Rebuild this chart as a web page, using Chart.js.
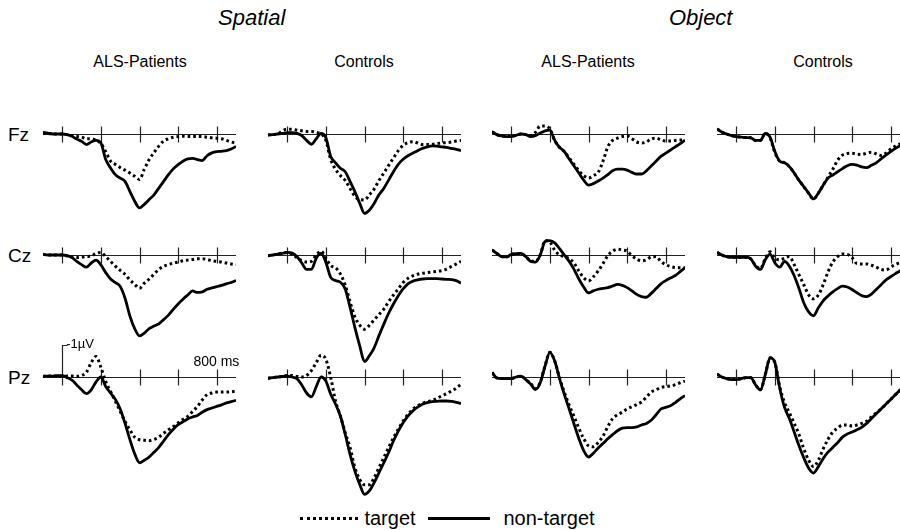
<!DOCTYPE html>
<html>
<head>
<meta charset="utf-8">
<script src="https://cdn.jsdelivr.net/npm/chart.js@4"></script>
<style>
  html, body { margin: 0; padding: 0; background: #fff; }
  body { width: 900px; height: 530px; position: relative; overflow: hidden;
         font-family: "Liberation Sans", Arial, sans-serif; color: #000; }
  .txt { position: absolute; white-space: nowrap; transform: translate(-50%, -50%); line-height: 1; }
  canvas { position: absolute; }
  .leg-line { position: absolute; height: 0; }
</style>
</head>
<body>
<script>
// time axis (ms), one sample every 25 ms
const TIMES = [-100, -75, -50, -25, 0, 25, 50, 75, 100, 125, 150, 175, 200, 225, 250, 275, 300,
  325, 350, 375, 400, 425, 450, 475, 500, 525, 550, 575, 600, 625, 650, 675, 700, 725, 750, 775,
  800, 825, 850, 875, 900];
const TICKS_MS = [0, 200, 400, 600, 800];
const COLUMNS = ["ALS-Patients", "Controls", "ALS-Patients", "Controls"];
const GROUPS = ["Spatial", "Object"];
const ELECTRODES = ["Fz", "Cz", "Pz"];
const LEGEND = ["target", "non-target"];

// amplitudes in µV (negative is plotted up)
const SP_ALS_FZ_T = [-0.03,-0.02,0,0,0,0.02,0.05,0.08,0.1,0.15,0.15,0.2,0.3,0.55,0.85,0.95,1.05,1.13,1.22,1.32,1.42,1.1,0.8,0.58,0.38,0.22,0.15,0.1,0.08,0.07,0.08,0.08,0.08,0.08,0.1,0.12,0.13,0.15,0.2,0.25,0.28];
const SP_ALS_FZ_N = [-0.05,-0.03,0,0,0,0.02,0.07,0.16,0.23,0.33,0.25,0.2,0.28,0.8,1.06,1.27,1.38,1.48,1.79,2.1,2.31,2.2,2.05,1.9,1.69,1.48,1.27,1.09,0.96,0.85,0.78,0.76,0.8,0.83,0.68,0.59,0.55,0.54,0.52,0.47,0.39];
const SP_ALS_CZ_T = [-0.02,0,0,0,0,0.03,0.06,0.08,0.07,0.05,0.03,-0.05,-0.08,0.05,0.2,0.35,0.48,0.6,0.78,0.92,1.04,0.88,0.75,0.6,0.45,0.35,0.3,0.25,0.22,0.18,0.16,0.14,0.12,0.12,0.14,0.18,0.2,0.22,0.25,0.28,0.3];
const SP_ALS_CZ_N = [-0.02,0,0,0,0,0.02,0.08,0.2,0.3,0.38,0.25,0.16,0.31,0.55,0.75,0.86,0.98,1.35,1.9,2.3,2.53,2.44,2.3,2.22,2.15,2.02,1.88,1.7,1.53,1.38,1.25,1.12,1.17,1.15,1.07,1.03,0.99,0.95,0.9,0.86,0.8];
const SP_ALS_PZ_T = [-0.02,-0.03,-0.03,-0.03,-0.02,-0.03,-0.03,-0.02,-0.05,-0.15,-0.45,-0.64,-0.3,0.14,0.45,0.76,1.07,1.39,1.65,1.88,1.96,1.98,1.99,1.95,1.88,1.76,1.65,1.55,1.44,1.33,1.23,1.08,0.92,0.72,0.55,0.5,0.47,0.47,0.47,0.46,0.45];
const SP_ALS_PZ_N = [-0.02,-0.03,-0.03,-0.04,-0.04,0.02,0.1,0.25,0.4,0.52,0.4,0.15,0,0.3,0.5,0.7,1.0,1.45,1.95,2.4,2.68,2.6,2.5,2.35,2.2,2.0,1.8,1.63,1.49,1.4,1.31,1.25,1.2,1.1,1.02,0.97,0.92,0.87,0.81,0.77,0.73];

const SP_CON_FZ_T = [0.03,0.02,0,-0.1,-0.15,-0.15,-0.12,-0.1,-0.08,-0.08,-0.05,0,0.2,0.8,1.1,1.3,1.45,1.7,1.95,2.05,2.06,1.9,1.72,1.45,1.22,0.98,0.75,0.52,0.36,0.27,0.24,0.28,0.33,0.33,0.32,0.3,0.28,0.27,0.25,0.22,0.2];
const SP_CON_FZ_N = [0.03,0.02,0,-0.02,-0.04,-0.04,-0.02,0.05,0.2,0.32,0.15,-0.02,0.12,0.7,0.9,1.07,1.18,1.48,1.8,2.16,2.48,2.38,2.17,1.9,1.7,1.44,1.18,0.95,0.79,0.68,0.6,0.52,0.45,0.4,0.37,0.38,0.4,0.42,0.45,0.48,0.52];
const SP_CON_CZ_T = [0.02,0,-0.03,-0.06,-0.08,-0.02,0.08,0.18,0.22,0.2,0,-0.12,0.1,0.33,0.4,0.59,0.94,1.46,1.93,2.19,2.32,2.2,2.03,1.86,1.69,1.46,1.25,1.06,0.86,0.73,0.65,0.6,0.57,0.55,0.53,0.51,0.49,0.44,0.36,0.28,0.2];
const SP_CON_CZ_N = [0.02,0,-0.03,-0.05,-0.08,-0.06,0.05,0.25,0.45,0.45,0.1,-0.05,0.23,0.7,0.8,0.85,1.06,1.63,2.26,2.83,3.33,3.15,2.9,2.52,2.16,1.82,1.53,1.27,1.06,0.9,0.82,0.78,0.75,0.74,0.74,0.74,0.75,0.76,0.77,0.8,0.88];
const SP_CON_PZ_T = [0.04,0.02,0,-0.02,-0.05,-0.05,-0.02,0,-0.05,-0.2,-0.45,-0.68,-0.55,0.02,0.75,1.22,1.74,2.2,2.83,3.2,3.37,3.37,3.15,2.83,2.52,2.2,1.9,1.63,1.38,1.17,1.01,0.9,0.82,0.77,0.73,0.67,0.59,0.52,0.44,0.35,0.23];
const SP_CON_PZ_N = [0.04,0.02,0,-0.02,-0.03,0,0.05,0.25,0.5,0.62,0.3,0,0.13,0.54,0.85,1.22,1.79,2.42,2.94,3.35,3.67,3.56,3.3,2.99,2.68,2.36,2.0,1.69,1.43,1.22,1.06,0.94,0.85,0.8,0.77,0.76,0.75,0.75,0.76,0.79,0.83];

const OB_ALS_FZ_T = [-0.07,0.02,0.06,0.08,0.08,0.04,0,0.02,0.05,-0.05,-0.25,-0.25,-0.15,0.2,0.42,0.55,0.75,0.95,1.15,1.3,1.38,1.3,1.2,0.85,0.4,0.2,0.13,0.08,0.06,0.15,0.25,0.28,0.25,0.15,0.13,0.18,0.22,0.22,0.2,0.19,0.18];
const OB_ALS_FZ_N = [-0.07,0.02,0.06,0.08,0.08,0.04,0,0.02,0.08,0.05,-0.03,-0.1,-0.12,0.2,0.42,0.55,0.78,1.0,1.22,1.44,1.6,1.55,1.47,1.38,1.27,1.15,1.1,1.1,1.13,1.2,1.25,1.25,1.15,1.0,0.85,0.7,0.6,0.5,0.4,0.3,0.19];
const OB_ALS_CZ_T = [-0.16,-0.05,0.05,0.06,-0.02,-0.04,-0.05,0.05,0.18,0.2,0,-0.45,-0.4,-0.15,0,0.05,0.12,0.25,0.5,0.71,0.81,0.68,0.5,0.27,0.02,-0.12,-0.18,-0.16,-0.12,0.02,0.13,0.18,0.15,0.06,0.05,0.2,0.3,0.36,0.39,0.4,0.4];
const OB_ALS_CZ_N = [-0.16,-0.05,0.05,0.06,-0.02,-0.04,-0.05,0.05,0.2,0.22,0,-0.42,-0.45,-0.38,-0.2,0,0.2,0.45,0.75,1.0,1.18,1.12,1.07,1.04,1.02,0.97,0.92,0.95,1.02,1.12,1.23,1.3,1.32,1.2,1.05,0.9,0.8,0.72,0.64,0.52,0.4];
const OB_ALS_PZ_T = [-0.14,0.03,0.05,0.05,0.05,0,-0.03,0.08,0.2,0.36,0.16,-0.36,-0.77,-0.5,0.03,0.48,0.88,1.23,1.6,1.92,2.15,2.18,2.05,1.85,1.55,1.3,1.18,1.1,1.0,0.93,0.86,0.78,0.63,0.47,0.4,0.33,0.3,0.28,0.24,0.18,0.13];
const OB_ALS_PZ_N = [-0.14,0.03,0.05,0.05,0.05,0,-0.03,0.08,0.22,0.39,0.18,-0.34,-0.77,-0.5,0.05,0.55,1.0,1.47,1.92,2.3,2.5,2.38,2.22,2.08,1.93,1.8,1.68,1.6,1.58,1.58,1.56,1.5,1.45,1.35,1.18,1.0,0.95,0.9,0.8,0.68,0.58];

const OB_CON_FZ_T = [-0.16,-0.06,0,0.05,0.08,0.1,0.11,0.12,0.2,0.2,-0.02,0.12,0.58,0.85,0.9,1.02,1.22,1.45,1.65,1.85,2.03,1.85,1.6,1.35,1.1,0.82,0.66,0.61,0.6,0.63,0.64,0.6,0.57,0.62,0.67,0.6,0.47,0.38,0.31,0.27,0.24];
const OB_CON_FZ_N = [-0.16,-0.06,0,0.05,0.08,0.1,0.11,0.12,0.2,0.2,-0.02,0.1,0.55,0.85,0.9,1.02,1.22,1.45,1.65,1.85,2.03,1.85,1.6,1.38,1.28,1.18,1.08,0.99,0.95,0.97,1.03,1.05,0.98,0.9,0.78,0.66,0.55,0.45,0.36,0.3,0.25];
const OB_CON_CZ_T = [-0.08,0,0.05,0.07,0.07,0.07,0.07,0.12,0.33,0.42,0.12,-0.1,0.1,0.15,0.1,0.05,0.3,0.62,0.93,1.25,1.37,1.25,0.93,0.53,0.22,0.05,-0.03,-0.02,0.08,0.27,0.28,0.28,0.32,0.38,0.45,0.47,0.38,0.3,0.23,0.2,0.18];
const OB_CON_CZ_N = [-0.08,0,0.05,0.07,0.07,0.07,0.07,0.12,0.35,0.45,0.15,-0.03,0.25,0.38,0.2,0.35,0.65,1.05,1.5,1.78,1.9,1.65,1.43,1.28,1.15,1.05,0.97,1.0,1.08,1.18,1.27,1.3,1.22,1.08,0.93,0.78,0.68,0.58,0.49,0.43,0.38];
const OB_CON_PZ_T = [-0.09,0,0.05,0.08,0.08,0.05,0.02,0.02,0.25,0.4,-0.07,-0.6,-0.45,0.3,0.8,1.12,1.45,1.8,2.25,2.6,2.8,2.6,2.25,1.95,1.72,1.6,1.5,1.5,1.53,1.5,1.45,1.38,1.25,1.12,1.0,0.85,0.7,0.55,0.4,0.3,0.2];
const OB_CON_PZ_N = [-0.09,0,0.05,0.08,0.08,0.05,0.02,0.02,0.25,0.4,-0.07,-0.6,-0.45,0.35,0.95,1.3,1.72,2.15,2.53,2.85,3.0,2.8,2.55,2.35,2.2,2.05,1.88,1.78,1.72,1.65,1.57,1.45,1.3,1.15,1.0,0.85,0.7,0.55,0.4,0.3,0.2];

// panels[row][col] = [target, non-target]
const PANELS = [
  [[SP_ALS_FZ_T, SP_ALS_FZ_N], [SP_CON_FZ_T, SP_CON_FZ_N], [OB_ALS_FZ_T, OB_ALS_FZ_N], [OB_CON_FZ_T, OB_CON_FZ_N]],
  [[SP_ALS_CZ_T, SP_ALS_CZ_N], [SP_CON_CZ_T, SP_CON_CZ_N], [OB_ALS_CZ_T, OB_ALS_CZ_N], [OB_CON_CZ_T, OB_CON_CZ_N]],
  [[SP_ALS_PZ_T, SP_ALS_PZ_N], [SP_CON_PZ_T, SP_CON_PZ_N], [OB_ALS_PZ_T, OB_ALS_PZ_N], [OB_CON_PZ_T, OB_CON_PZ_N]],
];

// layout
const PX_PER_MS = 0.193;
const COL_ZERO_X = [62, 287, 511, 736];   // pixel of 0 ms per column
const ROW_ZERO_Y = [134, 255, 377];       // pixel of 0 µV per row
const PX_PER_UV = 32;
const Y_TOP = -1.25, Y_BOTTOM = 3.75;
const PAD = 4;

function addText(str, cx, cy, style) {
  const d = document.createElement("div");
  d.className = "txt";
  d.textContent = str;
  d.style.left = cx + "px";
  d.style.top = cy + "px";
  Object.assign(d.style, style || {});
  document.body.appendChild(d);
  return d;
}

const erpAxis = {
  id: "erpAxis",
  beforeDatasetsDraw(chart, args, opts) {
    const { ctx, scales: { x, y } } = chart;
    const y0 = Math.round(y.getPixelForValue(0)) + 0.5;
    ctx.save();
    ctx.strokeStyle = "#222";
    ctx.lineWidth = 1.2;
    ctx.beginPath();
    ctx.moveTo(x.getPixelForValue(TIMES[0]), y0);
    ctx.lineTo(x.getPixelForValue(TIMES[TIMES.length - 1]), y0);
    TICKS_MS.forEach((t) => {
      const px = Math.round(x.getPixelForValue(t)) + 0.5;
      ctx.moveTo(px, y0 - 8);
      ctx.lineTo(px, y0 + 8);
    });
    if (opts.scaleBar) {
      const px = Math.round(x.getPixelForValue(0)) + 0.5;
      const top = Math.round(y.getPixelForValue(-1)) + 0.5;
      ctx.moveTo(px, y0);
      ctx.lineTo(px, top);
      ctx.lineTo(px + 5, top);
    }
    ctx.stroke();
    ctx.restore();
  },
};

function drawPanel(row, col) {
  const [target, nonTarget] = PANELS[row][col];
  const canvas = document.createElement("canvas");
  const w = Math.round((TIMES[TIMES.length - 1] - TIMES[0]) * PX_PER_MS) + PAD * 2;
  const h = Math.round((Y_BOTTOM - Y_TOP) * PX_PER_UV);
  canvas.width = w;
  canvas.height = h;
  canvas.style.left = Math.round(COL_ZERO_X[col] + TIMES[0] * PX_PER_MS - PAD) + "px";
  canvas.style.top = Math.round(ROW_ZERO_Y[row] + Y_TOP * PX_PER_UV) + "px";
  document.body.appendChild(canvas);

  const pts = (arr) => arr.map((v, i) => ({ x: TIMES[i], y: v }));

  new Chart(canvas, {
    type: "line",
    data: {
      datasets: [
        {
          label: LEGEND[0],
          data: pts(target),
          borderColor: "#000",
          borderWidth: 3,
          borderDash: [2.6, 3],
          borderCapStyle: "butt",
          pointRadius: 0,
          cubicInterpolationMode: "monotone",
        },
        {
          label: LEGEND[1],
          data: pts(nonTarget),
          borderColor: "#000",
          borderWidth: 2.8,
          pointRadius: 0,
          cubicInterpolationMode: "monotone",
        },
      ],
    },
    options: {
      responsive: false,
      animation: false,
      events: [],
      layout: { padding: { left: PAD, right: PAD, top: 0, bottom: 0 } },
      plugins: {
        legend: { display: false },
        tooltip: { enabled: false },
        erpAxis: { scaleBar: row === 2 && col === 0 },
      },
      scales: {
        x: { type: "linear", min: TIMES[0], max: TIMES[TIMES.length - 1], display: false },
        y: { min: Y_TOP, max: Y_BOTTOM, reverse: true, display: false },
      },
    },
    plugins: [erpAxis],
  });
}

// headers
const midMs = 400;
addText(GROUPS[0], (COL_ZERO_X[0] + COL_ZERO_X[1]) / 2 + midMs * PX_PER_MS, 18, { fontSize: "22px", fontStyle: "italic" });
addText(GROUPS[1], (COL_ZERO_X[2] + COL_ZERO_X[3]) / 2 + midMs * PX_PER_MS, 18, { fontSize: "22px", fontStyle: "italic" });
const colTitleX = [140, 364, 588, 823];
COLUMNS.forEach((c, i) => addText(c, colTitleX[i], 62, { fontSize: "16px" }));
ELECTRODES.forEach((e, i) => {
  const d = addText(e, 0, ROW_ZERO_Y[i], { fontSize: "19px", transform: "translate(0, -50%)" });
  d.style.left = "8px";
});

for (let r = 0; r < 3; r++) {
  for (let c = 0; c < 4; c++) drawPanel(r, c);
}

// scale bar labels
addText("-1\u00b5V", 80, 343, { fontSize: "13px" });
addText("800 ms", COL_ZERO_X[0] + 800 * PX_PER_MS, 361, { fontSize: "14px" });

// legend
const legY = 518;
const l1 = document.createElement("div");
l1.className = "leg-line";
Object.assign(l1.style, { left: "300px", top: legY - 1 + "px", width: "58px", borderTop: "3px dotted #000" });
document.body.appendChild(l1);
addText(LEGEND[0], 390, legY, { fontSize: "20px" });
const l2 = document.createElement("div");
l2.className = "leg-line";
Object.assign(l2.style, { left: "428px", top: legY - 1 + "px", width: "62px", borderTop: "3px solid #000" });
document.body.appendChild(l2);
addText(LEGEND[1], 549, legY, { fontSize: "20px" });
</script>
</body>
</html>
